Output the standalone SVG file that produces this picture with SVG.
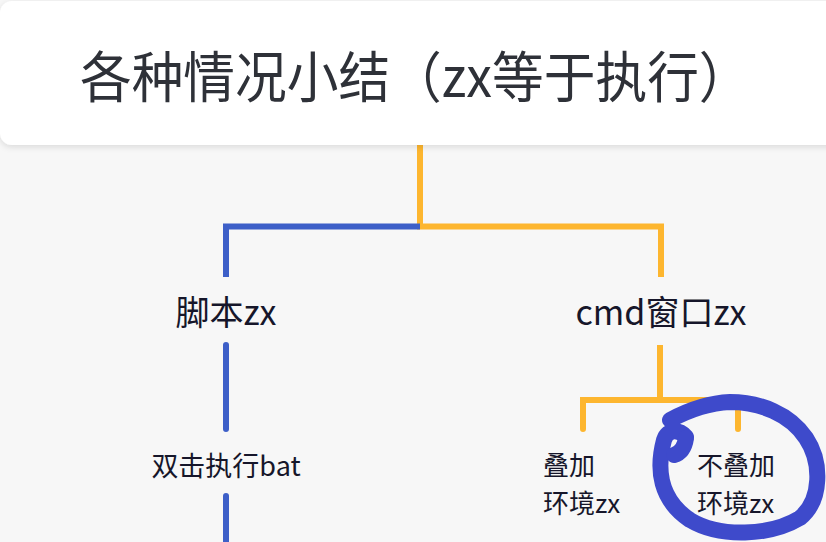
<svg xmlns="http://www.w3.org/2000/svg" width="826" height="542" viewBox="0 0 826 542">
  <defs>
    <filter id="shadow" x="-5%" y="-20%" width="110%" height="150%">
      <feDropShadow dx="0" dy="2" stdDeviation="3" flood-color="#000" flood-opacity="0.12"/>
    </filter>
    <style>
      .title { font-family: "Noto Sans CJK SC", "Noto Sans", sans-serif; font-size: 55px; fill: #2e3138; }
      .node { font-family: "Noto Sans CJK SC", "Noto Sans", sans-serif; fill: #16162a; }
      .blue { stroke: #3d5fc8; stroke-width: 6; fill: none; }
      .orange { stroke: #fdb62f; stroke-width: 6; fill: none; }
      .round { stroke-linecap: round; }
      .mark { stroke: #3e4acb; stroke-width: 16; fill: none; stroke-linecap: round; stroke-linejoin: round; }
    </style>
  </defs>
  <rect x="0" y="0" width="826" height="542" fill="#f7f7f7"/>

  <g id="connectors">
    <path class="orange" d="M420,145 V226.5 H661 V277"/>
    <path class="blue" d="M420,226.5 H226 V277"/>
    <path class="blue round" d="M226,345 V429"/>
    <path class="blue round" d="M226,496 V548"/>
    <path class="orange" d="M660,345 V400"/>
    <path class="orange round" d="M583,429 V400 H738 V429"/>
  </g>

  <g id="root">
    <rect x="0" y="1" width="850" height="144" rx="12" ry="12" fill="#ffffff" filter="url(#shadow)"/>
    <text class="title" transform="translate(80,97) scale(0.94,1)">各种情况小结（zx等于执行）</text>
  </g>

  <g id="node-script">
    <text class="node" x="226" y="325" font-size="34" text-anchor="middle">脚本zx</text>
  </g>
  <g id="node-cmd">
    <text class="node" x="661" y="325" font-size="34" text-anchor="middle">cmd窗口zx</text>
  </g>
  <g id="node-bat">
    <text class="node" x="226" y="476" font-size="27" text-anchor="middle">双击执行bat</text>
  </g>
  <g id="node-stack">
    <text class="node" x="543" y="475" font-size="26">叠加</text>
    <text class="node" x="543" y="513" font-size="26">环境zx</text>
  </g>
  <g id="node-nostack">
    <text class="node" x="697" y="475" font-size="26">不叠加</text>
    <text class="node" x="697" y="513" font-size="26">环境zx</text>
  </g>

  <g id="annotation">
    <path class="mark" d="M686,437 C680,430 668,428 664,440 C656,470 660,500 690,520 C720,538 770,536 800,518 C822,500 822,462 806,438 C790,414 760,402 730,402 C705,403 685,412 670,420"/>
    <path class="mark" d="M686,438 Q684,452 674,455"/>
  </g>
</svg>
